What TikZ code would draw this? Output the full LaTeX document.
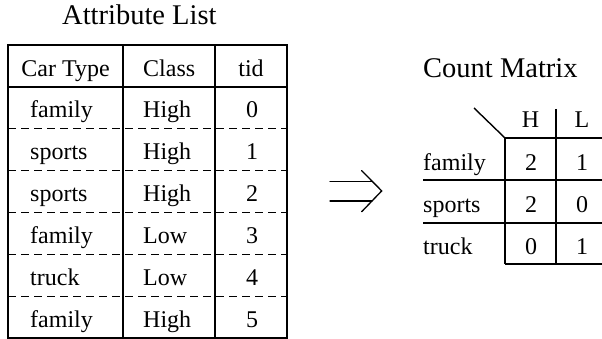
\documentclass[tikz,border=0pt]{standalone}
\usepackage{fontspec}
\setmainfont{Liberation Serif}
\begin{document}
\begin{tikzpicture}[x=1pt,y=-1pt,
  cell/.style={inner sep=0pt, anchor=base, font=\fontsize{24}{28}\selectfont},
  cellw/.style={cell, anchor=base west},
  titletext/.style={inner sep=0pt, anchor=base west, font=\fontsize{28.5}{32}\selectfont},
  border/.style={line width=1.4pt},
  dashrule/.style={line width=1.1pt, dash pattern=on 8pt off 5pt},
  arrowline/.style={line width=1.3pt, line cap=round, line join=miter}]
\useasboundingbox (0,0) rectangle (602,339);
% ---------- Attribute list ----------
\node[titletext] (t1) at (62,25) {Attribute List};
\draw[border] (8,45) rectangle (287,338);
\draw[border] (8,87) -- (287,87);
\draw[border] (123,45) -- (123,338);
\draw[border] (215,45) -- (215,338);
\foreach \k in {1,...,5} {
  \draw[dashrule] (8,{87+41.83*\k}) -- (287,{87+41.83*\k});
}
\node[cell] (hcar) at (65.5,76.5) {Car Type};
\node[cellw] (hclass) at (143,76.5) {Class};
\node[cell] (htid) at (251,76.5) {tid};
\foreach \car/\cls/\tid [count=\i from 0] in {family/High/0,sports/High/1,sports/High/2,family/Low/3,truck/Low/4,family/High/5} {
  \node[cellw] (car\i) at (30,{118+41.83*\i}) {\car};
  \node[cellw] (cls\i) at (143,{118+41.83*\i}) {\cls};
  \node[cell] (tid\i) at (252,{118+41.83*\i}) {\tid};
}
% ---------- arrow ----------
\coordinate (a1s) at (330,181.7);
\coordinate (a1e) at (372,181.7);
\coordinate (a2s) at (330,201);
\coordinate (a2e) at (372,201);
\coordinate (chtop) at (361.7,170.7);
\coordinate (chtip) at (381.7,190.9);
\coordinate (chbot) at (361.7,211.7);
\draw[arrowline] (a1s) -- (a1e);
\draw[arrowline] (a2s) -- (a2e);
\draw[arrowline] (chtop) -- (chtip) -- (chbot);
% ---------- Count matrix ----------
\node[titletext] (t2) at (423,77.5) {Count Matrix};
\draw[border] (474,108) -- (505,138);
\draw[border] (505,138) -- (602,138);
\draw[border] (423,180) -- (602,180);
\draw[border] (423,223) -- (602,223);
\draw[border] (505,264) -- (602,264);
\draw[border] (505,138) -- (505,264);
\draw[border] (556,109) -- (556,264);
\node[cell] (colH) at (530.5,128) {H};
\node[cell] (colL) at (582,128) {L};
\node[cellw] (rfam) at (423,171) {family};
\node[cellw] (rspo) at (423,212.5) {sports};
\node[cellw] (rtru) at (423,254) {truck};
\node[cell] (m11) at (531,171) {2};
\node[cell] (m12) at (582,171) {1};
\node[cell] (m21) at (531,212.5) {2};
\node[cell] (m22) at (582,212.5) {0};
\node[cell] (m31) at (531,254) {0};
\node[cell] (m32) at (582,254) {1};
\end{tikzpicture}
\end{document}
